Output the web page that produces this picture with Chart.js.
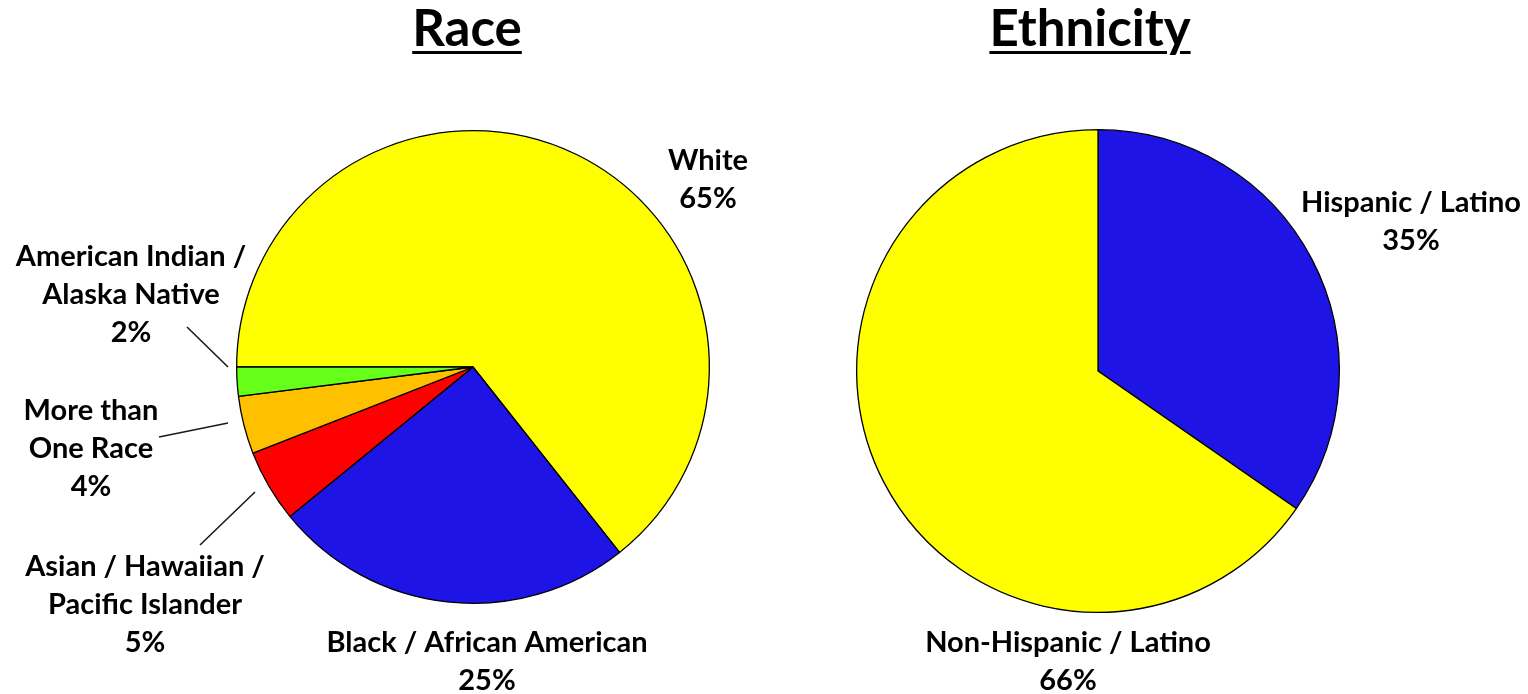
<!DOCTYPE html>
<html>
<head>
<meta charset="utf-8">
<script src="https://cdn.jsdelivr.net/npm/chart.js@4"></script>
<style>
  html, body { margin: 0; padding: 0; background: #fff; }
  body { width: 1528px; height: 694px; position: relative; overflow: hidden; font-family: Lato, "Open Sans", sans-serif; }
  .title { position: absolute; top: -2px; font-weight: bold; font-size: 51px; line-height: 58px; color: #000;
           text-decoration: underline; text-decoration-thickness: 3px; text-underline-offset: 5px; transform: translateX(-50%); white-space: nowrap; }
  #wrapRace { position: absolute; left: 0; top: 0; width: 785px; height: 694px; }
  #wrapEth { position: absolute; left: 785px; top: 0; width: 743px; height: 694px; }
</style>
</head>
<body>
<div class="title" style="left:467px;">Race</div>
<div class="title" style="left:1090px;">Ethnicity</div>
<div id="wrapRace"><canvas id="race"></canvas></div>
<div id="wrapEth"><canvas id="eth"></canvas></div>
<script>
// ---- data ----
const raceCategories = ['White', 'Black / African American', 'Asian / Hawaiian / Pacific Islander', 'More than One Race', 'American Indian / Alaska Native'];
const raceValues = [65, 25, 5, 4, 2];
const raceColors = ['#FFFF00', '#1F14E6', '#FF0000', '#FFC000', '#66FF19'];

const ethCategories = ['Hispanic / Latino', 'Non-Hispanic / Latino'];
const ethValues = [35, 66];
const ethColors = ['#1F14E6', '#FFFF00'];

// label line breaks (text only)
const raceLabelLines = [['White'], ['Black / African American'], ['Asian / Hawaiian /', 'Pacific Islander'], ['More than', 'One Race'], ['American Indian /', 'Alaska Native']];
const ethLabelLines = [['Hispanic / Latino'], ['Non-Hispanic / Latino']];

// ---- layout (positions in canvas pixels) ----
const raceLabelPos = [[708, 161], [487, 643], [145, 567], [91, 411], [131, 257]];
const raceLeaders = [null, null, [[255, 492], [200, 545]], [[228, 423], [159, 437]], [[228, 367], [187, 327]]];
const ethLabelPos = [[1411 - 785, 203], [1068 - 785, 643]];

const LINE_H = 38;
const FONT = 'bold 29px Lato, "Open Sans", sans-serif';

const labelPlugin = {
  id: 'sliceLabels',
  afterDatasetsDraw(chart, args, opts) {
    const ctx = chart.ctx;
    const values = chart.data.datasets[0].data;
    ctx.save();
    ctx.strokeStyle = '#1a1a1a';
    ctx.lineWidth = 1.6;
    (opts.leaders || []).forEach(seg => {
      if (!seg) return;
      ctx.beginPath();
      ctx.moveTo(seg[0][0], seg[0][1]);
      ctx.lineTo(seg[1][0], seg[1][1]);
      ctx.stroke();
    });
    ctx.fillStyle = '#000';
    ctx.font = FONT;
    ctx.textAlign = 'center';
    ctx.textBaseline = 'middle';
    opts.lines.forEach((lines, i) => {
      const [x, y] = opts.pos[i];
      const all = lines.concat([values[i] + '%']);
      all.forEach((t, k) => ctx.fillText(t, x, y + k * LINE_H));
    });
    ctx.restore();
  }
};

function makePie(id, categories, values, colors, rotation, padding, lines, pos, leaders) {
  return new Chart(document.getElementById(id), {
    type: 'pie',
    data: {
      labels: categories,
      datasets: [{ data: values, backgroundColor: colors, borderColor: '#000', borderWidth: 1.3, hoverOffset: 0 }]
    },
    options: {
      responsive: true,
      maintainAspectRatio: false,
      animation: false,
      events: [],
      rotation: rotation,
      layout: { padding: padding },
      plugins: {
        legend: { display: false },
        tooltip: { enabled: false },
        sliceLabels: { lines: lines, pos: pos, leaders: leaders }
      }
    },
    plugins: [labelPlugin]
  });
}

makePie('race', raceCategories, raceValues, raceColors, -90,
  { left: 236, right: 785 - 710, top: 130, bottom: 694 - 604 }, raceLabelLines, raceLabelPos, raceLeaders);
makePie('eth', ethCategories, ethValues, ethColors, 0,
  { left: 856 - 785, right: 743 - (1340 - 785), top: 129, bottom: 694 - 613 }, ethLabelLines, ethLabelPos, []);
</script>
</body>
</html>
